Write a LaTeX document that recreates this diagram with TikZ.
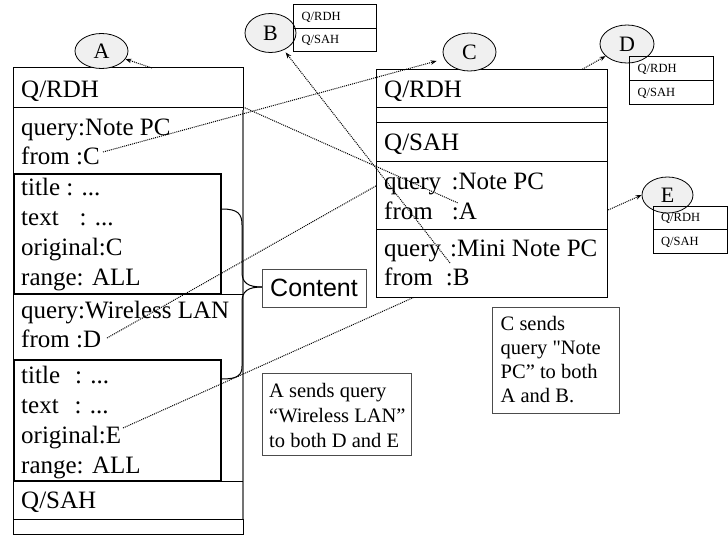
\documentclass[tikz,border=0pt]{standalone}
\usepackage{fontspec}
\setmainfont{Liberation Serif}
\newfontfamily\sansf{Liberation Sans}
\newfontfamily\plainserif{Liberation Serif}
\usetikzlibrary{arrows.meta,shapes.geometric}
\begin{document}
\begin{tikzpicture}[x=1pt,y=-1pt,
  big/.style={anchor=base west,inner sep=0pt,font=\fontsize{25}{30}\selectfont},
  small/.style={anchor=base west,inner sep=0pt,font=\fontsize{12.5}{15}\selectfont},
  notetxt/.style={anchor=base west,inner sep=0pt,font=\fontsize{20.5}{25}\selectfont},
  peer/.style={ellipse,draw,line width=0.8pt,fill=black!6,inner sep=0pt,font=\fontsize{22}{26}\selectfont},
  dotline/.style={line width=1pt,dash pattern=on 1pt off 1pt},
  arr/.style={dotline,-{Stealth[length=6pt,width=4.5pt]}},
  thinline/.style={line width=1pt},
  heavybox/.style={line width=2.3pt},
  notebox/.style={draw=black!70,line width=1pt},
]
\useasboundingbox (0,0) rectangle (728,535);

% ---------------- A's box ----------------
\draw[thinline,fill=white] (13,68) rectangle (243,534);
\draw[black!55,line width=2pt] (242.5,110) -- (242.5,519);
\draw[thinline] (13,107) -- (243,107);
\draw[thinline] (13,294.5) -- (243,294.5);
\draw[thinline] (13,481) -- (243,481);
\draw[thinline] (13,519) -- (243,519);
\draw[heavybox] (14,174) rectangle (221,294);
\draw[heavybox] (14,360) rectangle (221,481);

\node[big] (a1) at (21,97) {Q/RDH};
\node[big] (a2) at (21,135) {query:Note PC};
\node[big] (a3) at (21,164) {from :C};
\node[big] (a4) at (21,195) {title : ...};
\node[big] (a5) at (21,225) {text\hspace{21pt}: ...};
\node[big] (a6) at (21,255) {original:C};
\node[big] (a7) at (21,285) {range: ALL};
\node[big] (a8) at (21,318) {query:Wireless LAN};
\node[big] (a9) at (21,347) {from :D};
\node[big] (a10) at (21,383) {title\hspace{15pt}: ...};
\node[big] (a11) at (21,413) {text\hspace{16pt}: ...};
\node[big] (a12) at (21,443) {original:E};
\node[big] (a13) at (21,473) {range: ALL};
\node[big] (a14) at (21,508) {Q/SAH};

% brace and Content label
\draw[thinline] (222,209) .. controls (238,209) and (242,214) .. (242,225) -- (242,272)
  .. controls (242,283) and (248,287) .. (262,287);
\draw[thinline] (262,287) .. controls (248,287) and (242,291) .. (242,302) -- (242,366)
  .. controls (242,375) and (238,379) .. (222,379);
\node[notebox,minimum width=104pt,minimum height=38pt,inner sep=0pt,font=\sansf\fontsize{25}{30}\selectfont] (content) at (314,288) {Content};

% ---------------- peers D, E and their tables ----------------
\node[peer,minimum width=54pt,minimum height=38pt] (Dell) at (627,44) {D};
\node[peer,minimum width=51pt,minimum height=36pt] (Eell) at (667.5,195) {E};
\draw[thinline] (629,57) rectangle (713,104);
\draw[thinline] (629,80.5) -- (713,80.5);
\node[small] (d1) at (637.5,72.5) {Q/RDH};
\node[small] (d2) at (637.5,96) {Q/SAH};
\draw[thinline] (653,206) rectangle (727,253);
\draw[thinline] (653,229.5) -- (727,229.5);
\node[small] (e1) at (661,221.5) {Q/RDH};
\node[small] (e2) at (661,245.5) {Q/SAH};

% lines that pass behind C's box
\coordinate (sD) at (107,338);
\coordinate (sE) at (123,428);
\draw[arr] (sD) -- (Dell);
\draw[arr] (sE) -- (Eell.west);

% ---------------- C's box ----------------
\draw[thinline,fill=white] (376,70) rectangle (607,297);
\draw[thinline] (376,107) -- (607,107);
\draw[thinline] (376,122) -- (607,122);
\draw[thinline] (376,161) -- (607,161);
\draw[thinline] (376,229) -- (607,229);
\node[big] (c1) at (384,97) {Q/RDH};
\node[big] (c2) at (384,150) {Q/SAH};
\node[big] (c3) at (384,189) {query\hspace{10.5pt}:Note PC};
\node[big] (c4) at (384,219) {from\hspace{19pt}:A};
\node[big] (c5) at (384,256) {query\hspace{9pt}:Mini Note PC};
\node[big] (c6) at (384,285) {from\hspace{13pt}:B};

% ---------------- peers A, B, C ----------------
\node[peer,minimum width=53pt,minimum height=35pt] (Aell) at (101.5,51) {A};
\node[peer,minimum width=51pt,minimum height=39pt] (Bell) at (270.5,33) {B};
\node[peer,minimum width=53pt,minimum height=38pt] (Cell) at (469.5,52) {C};
\draw[thinline] (293,5) rectangle (376,52);
\draw[thinline] (293,28.5) -- (376,28.5);
\node[small] (b1) at (301.5,20.5) {Q/RDH};
\node[small] (b2) at (301.5,44) {Q/SAH};

% other connectors
\coordinate (sAtop) at (152,68);
\coordinate (sC) at (103,152);
\coordinate (sA1) at (243,107);
\coordinate (eA1) at (458,203);
\coordinate (sB) at (450,263);
\draw[arr] (sAtop) -- (Aell);
\draw[arr,shorten >=8pt] (sC) -- (Cell);
\draw[dotline] (sA1) -- (eA1);
\draw[arr,shorten >=3pt] (sB) -- (Bell);

% ---------------- notes ----------------
\draw[notebox] (262,373) rectangle (411,455);
\node[notetxt] (n1) at (269,397) {A sends query};
\node[notetxt] (n2) at (269,422) {“Wireless LAN”};
\node[notetxt] (n3) at (269,447) {to both D and E};
\draw[notebox] (492,307) rectangle (619,413);
\node[notetxt] (m1) at (500.5,330) {C sends};
\node[notetxt] (m2) at (500.5,354) {query {\plainserif"}Note};
\node[notetxt] (m3) at (500.5,378) {PC” to both};
\node[notetxt] (m4) at (500.5,402) {A and B.};
\end{tikzpicture}
\end{document}
